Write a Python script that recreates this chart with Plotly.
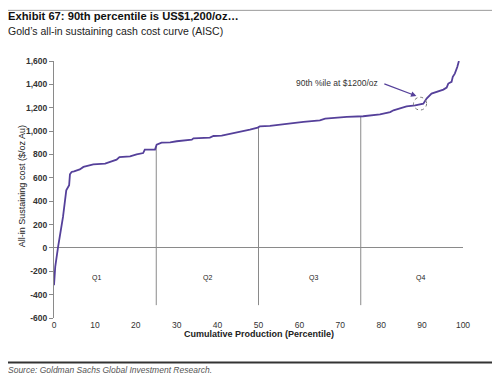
import numpy as np
import plotly.graph_objects as go

# ---- data ----
percentile = [0, 0.3, 1.0, 2.2, 3.0, 3.7, 3.9, 4.3, 4.9, 6.3, 7.2, 8.0, 9.6, 12.5, 13.7,
              15.3, 16.0, 18.6, 20.2, 21.8, 22.2, 24.7, 25.1, 26.3, 28.4, 30.0, 33.7,
              34.1, 38.1, 39.0, 41.0, 44.7, 47.9, 49.8, 50.3, 52.8, 55.3, 57.7, 61.0,
              65.0, 66.3, 71.6, 75.6, 79.7, 82.2, 83.0, 86.2, 88.3, 90.3, 91.1, 92.3,
              95.2, 96.0, 96.4, 97.2, 97.5, 98.0, 98.6, 99.0]
aisc = [-320, -163, 8, 265, 493, 536, 630, 650, 655, 672, 693, 700, 716, 721, 736,
        756, 778, 784, 801, 812, 842, 842, 884, 901, 904, 913, 927,
        938, 944, 958, 961, 987, 1013, 1030, 1040, 1044, 1056, 1064, 1078,
        1092, 1107, 1121, 1127, 1144, 1163, 1178, 1212, 1221, 1235, 1278, 1321,
        1355, 1372, 1407, 1421, 1464, 1492, 1549, 1600]

quartile_bounds = [25, 50, 75]
quartile_labels = ["Q1", "Q2", "Q3", "Q4"]
quartile_label_x = [10.5, 37.6, 63.4, 89.5]

y_tickvals = [-600, -400, -200, 0, 200, 400, 600, 800, 1000, 1200, 1400, 1600]
y_ticktext = ["-600", "-400", "-200", "0", "200", "400", "600", "800",
              "1,000", "1,200", "1,400", "1,600"]
x_tickvals = [0, 10, 20, 30, 40, 50, 60, 70, 80, 90, 100]

# ---- layout geometry (page has an 8px body margin) ----
OFF = 8
W, H = 500 - OFF, 380 - OFF
L = 54 - OFF
T = 60.7 - OFF
R = W - (463 - OFF)
B = H - (318 - OFF)
PW, PH = W - L - R, H - T - B
FONT = "Liberation Sans, Arial, sans-serif"
LINE_COLOR = "#55409a"


def px(xpix):
    """reference page pixel x -> paper fraction"""
    return (xpix - OFF - L) / PW


def py(ypix):
    """reference page pixel y -> paper fraction"""
    return (H - B - (ypix - OFF)) / PH


fig = go.Figure()

# quartile separators (from curve down to bottom)
q_top = np.interp(quartile_bounds, percentile, aisc)
for qx, qt in zip(quartile_bounds, q_top):
    fig.add_trace(go.Scatter(x=[qx, qx], y=[qt, -490], mode="lines",
                             line=dict(color="#8a8a8a", width=1),
                             hoverinfo="skip", showlegend=False))

fig.add_trace(go.Scatter(x=percentile, y=aisc, mode="lines",
                         line=dict(color=LINE_COLOR, width=1.8),
                         showlegend=False))

annotations = []
for lab, lx in zip(quartile_labels, quartile_label_x):
    annotations.append(dict(x=lx, y=-255, xref="x", yref="y", text=lab, showarrow=False,
                            font=dict(family=FONT, size=7, color="#222")))

# callout
annotations.append(dict(x=69.1, y=1412, xref="x", yref="y", text="90th %ile at $1200/oz",
                        showarrow=False, font=dict(family=FONT, size=8.5, color="#333")))
annotations.append(dict(x=88.6, y=1300, xref="x", yref="y", ax=80.4, ay=1409,
                        axref="x", ayref="y", text="", showarrow=True, arrowhead=2,
                        arrowsize=0.9, arrowwidth=1.2, arrowcolor=LINE_COLOR))

# titles
annotations.append(dict(x=px(6), y=py(16), xref="paper", yref="paper", xanchor="left",
                        yanchor="middle", showarrow=False,
                        text="<b>Exhibit 67: 90th percentile is US$1,200/oz…</b>",
                        font=dict(family=FONT, size=11.2, color="#111")))
annotations.append(dict(x=px(6), y=py(31), xref="paper", yref="paper", xanchor="left",
                        yanchor="middle", showarrow=False,
                        text="Gold’s all-in sustaining cash cost curve (AISC)",
                        font=dict(family=FONT, size=10.5, color="#222")))
annotations.append(dict(x=px(6), y=py(370), xref="paper", yref="paper", xanchor="left",
                        yanchor="middle", showarrow=False,
                        text="<i>Source: Goldman Sachs Global Investment Research.</i>",
                        font=dict(family=FONT, size=8.5, color="#555")))
annotations.append(dict(x=px(15), y=py(186), xref="paper", yref="paper", textangle=-90,
                        showarrow=False, text="All-in Sustaining cost ($/oz Au)",
                        font=dict(family=FONT, size=9, color="#222")))
annotations.append(dict(x=0.5, y=py(341), xref="paper", yref="paper", showarrow=False,
                        text="<b>Cumulative Production (Percentile)</b>",
                        font=dict(family=FONT, size=9, color="#222")))

shapes = [
    dict(type="line", xref="paper", yref="paper", x0=px(3), x1=px(499), y0=py(10), y1=py(10),
         line=dict(color="#9a9a9a", width=1)),
    dict(type="line", xref="paper", yref="paper", x0=px(5), x1=px(498), y0=py(362.5),
         y1=py(362.5), line=dict(color="#333", width=2)),
    dict(type="circle", xref="x", yref="y", x0=87.9, x1=91.1, y0=1180, y1=1290,
         line=dict(color="#777", width=1, dash="dot")),
]

fig.update_layout(
    width=W, height=H, margin=dict(l=L, r=R, t=T, b=B),
    paper_bgcolor="white", plot_bgcolor="white",
    font=dict(family=FONT, size=8, color="#222"),
    showlegend=False,
    annotations=annotations, shapes=shapes,
    xaxis=dict(range=[0, 100], tickvals=x_tickvals, showline=False, showgrid=False,
               zeroline=False, ticks="", tickprefix="<b>", ticksuffix="</b>",
               tickfont=dict(family=FONT, size=8.5, color="#333"), fixedrange=True),
    xaxis2=dict(range=[0, 100], matches="x", overlaying="x", anchor="free",
                position=600 / 2200, showticklabels=False, tickvals=x_tickvals,
                ticks="inside", ticklen=3, tickcolor="#8a8a8a", showline=False,
                showgrid=False, zeroline=False),
    yaxis=dict(range=[-600, 1600], tickvals=y_tickvals,
               ticktext=["<b>" + t + "</b>" for t in y_ticktext],
               showline=True, linecolor="#8a8a8a", linewidth=1, ticks="outside",
               ticklen=4, tickcolor="#8a8a8a", showgrid=False, zeroline=True,
               zerolinecolor="#8a8a8a", zerolinewidth=1,
               tickfont=dict(family=FONT, size=8.5, color="#333"), fixedrange=True),
)

fig.write_html("out.html")
